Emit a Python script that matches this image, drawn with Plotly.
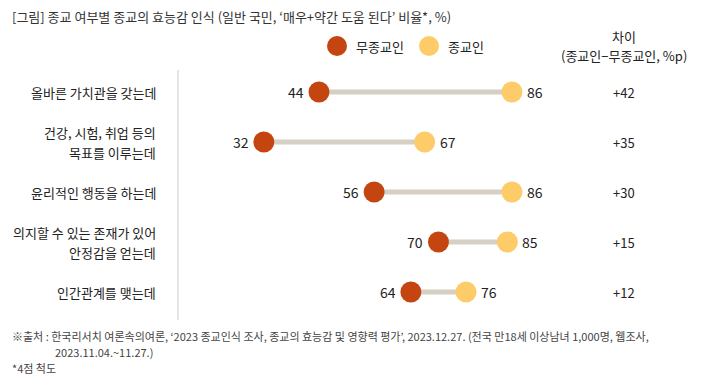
import plotly.graph_objects as go

categories = [["올바른 가치관을 갖는데"], ["건강, 시험, 취업 등의", "목표를 이루는데"], ["윤리적인 행동을 하는데"],
              ["의지할 수 있는 존재가 있어", "안정감을 얻는데"], ["인간관계를 맺는데"]]
non_religious = [44, 32, 56, 70, 64]
religious = [86, 67, 86, 85, 76]
diff_labels = ["+42", "+35", "+30", "+15", "+12"]

# page has an 8px body margin; figure drawn at (8,8)
OFF = 8
W, H = 702 - OFF, 385 - OFF
RED = "#c4450f"
YEL = "#fecb69"
LINE = "#d6cfc4"
TXT = "#222222"
FONT = "Noto Sans CJK KR"

def px(p):
    return (p - OFF) / W

def py(p):
    return 1 - (p - OFF) / H

# screen mapping: x px = 116.8 + 4.595 * value ; y px = 92 + 50 * row
X0, XS = 116.8 - OFF, 4.595
Y0, YS = 92 - OFF, 50
xr = [(0 - X0) / XS, (W - X0) / XS]
yr = [(H - Y0) / YS, (0 - Y0) / YS]
rows = list(range(len(categories)))

fig = go.Figure()

lx, ly = [], []
for i in rows:
    lx += [non_religious[i], religious[i], None]
    ly += [i, i, None]
fig.add_trace(go.Scatter(x=lx, y=ly, mode="lines", line=dict(color=LINE, width=5),
                         hoverinfo="skip", showlegend=False))
fig.add_trace(go.Scatter(x=non_religious, y=rows, mode="markers", name="무종교인",
                         marker=dict(color=RED, size=21, line=dict(width=0)), showlegend=False))
fig.add_trace(go.Scatter(x=religious, y=rows, mode="markers", name="종교인",
                         marker=dict(color=YEL, size=21, line=dict(width=0)), showlegend=False))

ann = []
for i in rows:
    ann.append(dict(x=non_religious[i], y=i, xref="x", yref="y", text=str(non_religious[i]),
                    xanchor="right", yanchor="middle", xshift=-13, showarrow=False,
                    font=dict(size=14, color=TXT, family=FONT)))
    ann.append(dict(x=religious[i], y=i, xref="x", yref="y", text=str(religious[i]),
                    xanchor="left", yanchor="middle", xshift=13, showarrow=False,
                    font=dict(size=14, color=TXT, family=FONT)))
    lines = categories[i]
    n = len(lines)
    for k, t in enumerate(lines):
        ann.append(dict(x=px(158), y=i, xref="paper", yref="y", text=t,
                        xanchor="right", yanchor="middle", showarrow=False,
                        yshift=-(k - (n - 1) / 2) * 20,
                        font=dict(size=13, color=TXT, family=FONT)))
    ann.append(dict(x=px(624), y=i, xref="paper", yref="y", text=diff_labels[i],
                    xanchor="center", yanchor="middle", showarrow=False,
                    font=dict(size=13, color=TXT, family=FONT)))

ann.append(dict(x=px(10), y=py(17), xref="paper", yref="paper",
                text="[그림] 종교 여부별 종교의 효능감 인식 (일반 국민, ‘매우+약간 도움 된다’ 비율*, %)",
                xanchor="left", yanchor="middle", showarrow=False,
                font=dict(size=13, color="#333333", family=FONT)))
ann.append(dict(x=px(624), y=py(37), xref="paper", yref="paper", text="차이",
                xanchor="center", yanchor="middle", showarrow=False,
                font=dict(size=13, color=TXT, family=FONT)))
ann.append(dict(x=px(624), y=py(56), xref="paper", yref="paper", text="(종교인−무종교인, %p)",
                xanchor="center", yanchor="middle", showarrow=False,
                font=dict(size=13, color=TXT, family=FONT)))
ann.append(dict(x=px(354), y=py(46), xref="paper", yref="paper", text="무종교인",
                xanchor="left", yanchor="middle", showarrow=False,
                font=dict(size=13, color=TXT, family=FONT)))
ann.append(dict(x=px(446), y=py(46), xref="paper", yref="paper", text="종교인",
                xanchor="left", yanchor="middle", showarrow=False,
                font=dict(size=13, color=TXT, family=FONT)))
ann.append(dict(x=px(10), y=py(336), xref="paper", yref="paper",
                text="※출처 : 한국리서치 여론속의여론, ‘2023 종교인식 조사, 종교의 효능감 및 영향력 평가’, 2023.12.27. (전국 만18세 이상남녀 1,000명, 웹조사,",
                xanchor="left", yanchor="middle", showarrow=False,
                font=dict(size=11, color="#444444", family=FONT)))
ann.append(dict(x=px(53), y=py(352), xref="paper", yref="paper",
                text="2023.11.04.~11.27.)",
                xanchor="left", yanchor="middle", showarrow=False,
                font=dict(size=11, color="#444444", family=FONT)))
ann.append(dict(x=px(10), y=py(368), xref="paper", yref="paper",
                text="*4점 척도",
                xanchor="left", yanchor="middle", showarrow=False,
                font=dict(size=11, color="#444444", family=FONT)))

shapes = [
    dict(type="line", xref="paper", yref="paper", x0=px(178), x1=px(178), y0=py(70), y1=py(320),
         line=dict(color="#cccccc", width=1)),
    dict(type="circle", xref="paper", yref="paper", x0=px(327), x1=px(347), y0=py(36), y1=py(56),
         fillcolor=RED, line=dict(width=0)),
    dict(type="circle", xref="paper", yref="paper", x0=px(419), x1=px(439), y0=py(36), y1=py(56),
         fillcolor=YEL, line=dict(width=0)),
]

fig.update_layout(
    width=W, height=H, margin=dict(l=0, r=0, t=0, b=0),
    paper_bgcolor="white", plot_bgcolor="white",
    xaxis=dict(range=xr, visible=False, fixedrange=True),
    yaxis=dict(range=yr, visible=False, fixedrange=True),
    annotations=ann, shapes=shapes, showlegend=False,
)
fig.write_html("out.html")
